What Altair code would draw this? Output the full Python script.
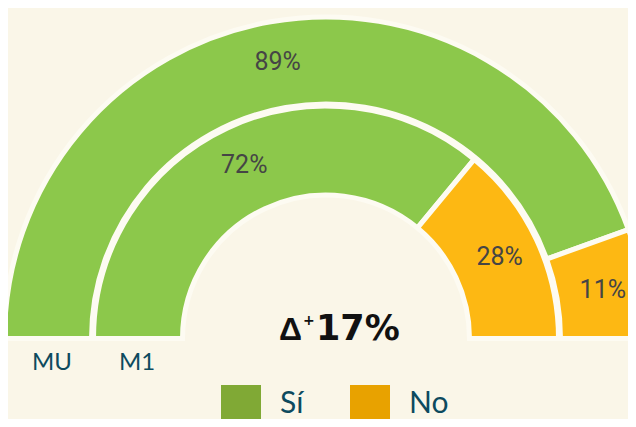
import math
import altair as alt
import pandas as pd

# ---- data ----
rings = ["MU", "M1"]
si_values = [89, 72]
no_values = [11, 28]
answers = ["Sí", "No"]
delta_value = ["17%"]

# ---- style ----
BG = "#faf6e8"
GAP = "#fdfbf2"
RING_COLORS = ["#8cc84b", "#fdb813"]
LEGEND_COLORS = ["#80a935", "#e8a200"]
TEAL = "#0d4a5e"
CX, CY = 318, 330.5
RADII = {"MU": (321.5, 234.5, 281), "M1": (232.5, 143.5, 192)}

rows = []
for ring, si, no in zip(rings, si_values, no_values):
    rows.append({"ring": ring, "answer": "Sí", "value": si, "ord": 0, "label": f"{si}%"})
    rows.append({"ring": ring, "answer": "No", "value": no, "ord": 1, "label": f"{no}%"})
df = pd.DataFrame(rows)

theta = alt.Theta("value:Q", stack=True,
                  scale=alt.Scale(domain=[0, 100], range=[-math.pi / 2, math.pi / 2]))
ring_color = alt.Color("answer:N", scale=alt.Scale(domain=answers, range=RING_COLORS), legend=None)

layers = []
for ring in rings:
    r_out, r_in, r_txt = RADII[ring]
    base = alt.Chart(df).transform_filter(alt.datum.ring == ring)
    layers.append(
        base.mark_arc(radius=r_out, radius2=r_in, stroke=GAP, strokeWidth=5).encode(
            theta=theta, color=ring_color, order=alt.Order("ord:Q"),
            x=alt.value(CX), y=alt.value(CY))
    )
    layers.append(
        base.mark_text(radius=r_txt, font="Roboto", fontSize=25, color="#454545").encode(
            theta=theta, text="label:N", order=alt.Order("ord:Q"),
            x=alt.value(CX), y=alt.value(CY))
    )

# ring names
ring_df = pd.DataFrame({"ring": rings})
for ring, xpos in zip(rings, [44, 129]):
    layers.append(
        alt.Chart(ring_df).transform_filter(alt.datum.ring == ring)
        .mark_text(font="Lato", fontSize=24, color=TEAL, baseline="alphabetic")
        .encode(text="ring:N", x=alt.value(xpos), y=alt.value(362))
    )

# center delta
delta_df = pd.DataFrame({"delta": delta_value})
layers.append(alt.Chart(delta_df).mark_text(
    text="Δ", font="Liberation Sans", fontWeight="bold", fontSize=32, color="#111",
    align="left", baseline="alphabetic").encode(x=alt.value(271), y=alt.value(332)))
layers.append(alt.Chart(delta_df).mark_text(
    text="+", font="DejaVu Sans", fontWeight="bold", fontSize=14, color="#111",
    align="left", baseline="alphabetic").encode(x=alt.value(295), y=alt.value(317)))
layers.append(alt.Chart(delta_df).mark_text(
    font="DejaVu Sans", fontWeight="bold", fontSize=35, color="#111",
    align="left", baseline="alphabetic").encode(text="delta:N", x=alt.value(308), y=alt.value(332)))

# legend
leg_df = pd.DataFrame({"answer": answers})
leg_x = alt.X("answer:N", scale=alt.Scale(domain=answers, range=[233, 362], padding=0), axis=None)
leg_color = alt.Color("answer:N", scale=alt.Scale(domain=answers, range=LEGEND_COLORS), legend=None)
layers.append(alt.Chart(leg_df).mark_square(size=1600, opacity=1).encode(
    x=leg_x, y=alt.value(397), color=leg_color))
layers.append(alt.Chart(leg_df).mark_text(
    font="Lato", fontSize=30, color=TEAL, align="left", baseline="alphabetic", dx=39).encode(
    x=leg_x, y=alt.value(405), text="answer:N"))

chart = (
    alt.layer(*layers)
    .resolve_scale(color="independent")
    .properties(width=620, height=411, padding=0,
                autosize=alt.AutoSizeParams(type="none"), background=BG)
    .configure_view(stroke=None)
)

chart.save("out.html", embed_options={"renderer": "svg", "actions": False})
